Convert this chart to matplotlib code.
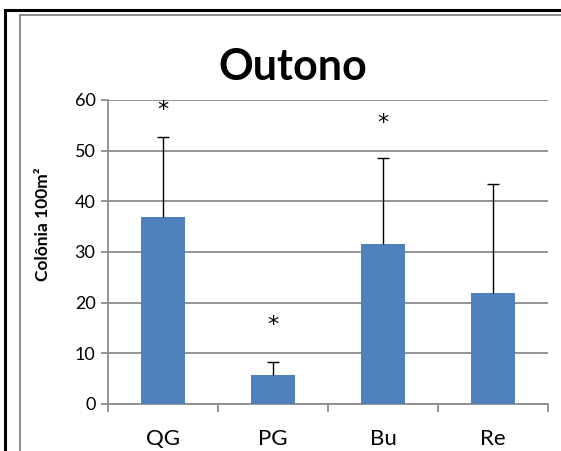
import matplotlib
matplotlib.use("Agg")
import matplotlib.pyplot as plt
from matplotlib.lines import Line2D

categories = ["QG", "PG", "Bu", "Re"]
values = [37.0, 5.7, 31.5, 22.0]
errors = [15.7, 2.5, 17.0, 21.5]
star_positions = [58.0, 15.5, 55.5, None]
yticks = [0, 10, 20, 30, 40, 50, 60]
title = "Outono"
ylabel = "Colônia 100m²"

plt.rcParams['font.family'] = ['Lato', 'DejaVu Sans']

W, H = 561, 451
fig = plt.figure(figsize=(W / 100, H / 100), dpi=100)

# outer borders
fig.add_artist(Line2D([5 / W, 1.0], [1 - 10 / H, 1 - 10 / H], color='black', lw=2.2))
fig.add_artist(Line2D([5 / W, 5 / W], [0, 1 - 10 / H], color='black', lw=2.2))
fig.add_artist(Line2D([20 / W, 1.0], [1 - 15 / H, 1 - 15 / H], color='#8c8c8c', lw=1.4))
fig.add_artist(Line2D([20 / W, 20 / W], [0, 1 - 15 / H], color='#8c8c8c', lw=1.4))

ax = fig.add_axes([108 / W, 1 - 404 / H, (548 - 108) / W, (404 - 100) / H])
x = list(range(len(categories)))
ax.bar(x, values, width=0.4, color='#4F81BD', zorder=3)
eb = ax.errorbar(x, values, yerr=[[0] * len(errors), errors], fmt='none',
                 ecolor='black', elinewidth=1.0, capsize=4, capthick=1.0, zorder=4)
# hide the lower caps (sitting on the bar tops)
for cl in eb[1]:
    yd = list(cl.get_ydata())
    if all(abs(a - b) < 1e-9 for a, b in zip(yd, values)):
        cl.set_visible(False)

for xi, s in zip(x, star_positions):
    if s is not None:
        ax.text(xi, s, "*", ha='center', va='center', fontsize=16,
                family='DejaVu Sans', zorder=5)

ax.set_xlim(-0.5, len(categories) - 0.5)
ax.set_ylim(0, 60)
ax.set_yticks(yticks)
ax.set_yticklabels([str(t) for t in yticks], fontsize=13)
ax.yaxis.grid(True, color='#8c8c8c', lw=1.3, zorder=0)
ax.set_axisbelow(True)
ax.tick_params(axis='y', length=5, width=1.3, color='#8c8c8c', pad=4)

# x ticks at category boundaries, labels at centers
ax.set_xticks([i - 0.5 for i in range(len(categories) + 1)])
ax.set_xticklabels([])
ax.set_xticks(x, minor=True)
ax.set_xticklabels(categories, minor=True, fontsize=16)
ax.tick_params(axis='x', which='major', length=6, width=1.3, color='#8c8c8c', direction='out')
ax.tick_params(axis='x', which='minor', length=0, pad=18)

for sp in ['top', 'right']:
    ax.spines[sp].set_visible(False)
for sp in ['left', 'bottom']:
    ax.spines[sp].set_color('#8c8c8c')
    ax.spines[sp].set_linewidth(1.3)

fig.text(293 / W, 1 - 67 / H, title, ha='center', va='center', fontsize=31, fontweight='bold')
fig.text(43 / W, 1 - 224 / H, ylabel, ha='center', va='center', rotation=90,
         fontsize=12.5, fontweight='bold')

fig.savefig("out.png", dpi=100)
